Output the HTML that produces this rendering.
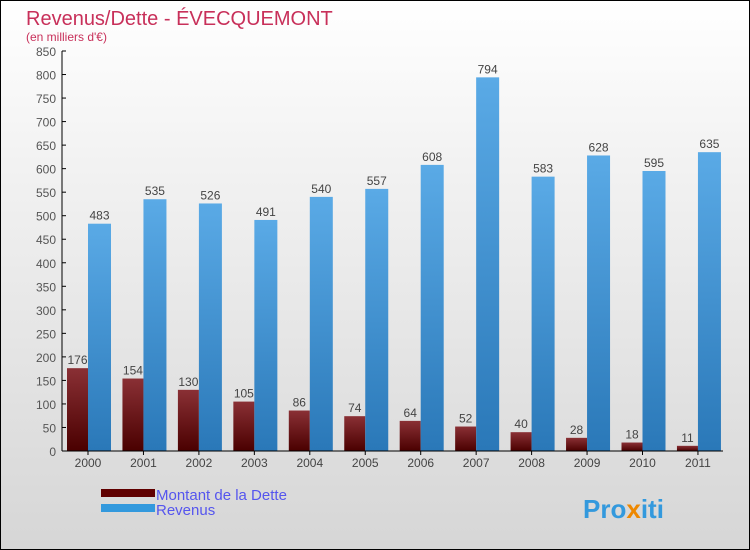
<!DOCTYPE html>
<html><head><meta charset="utf-8"><style>
body{margin:0}
#c{width:748px;height:548px;border:1px solid #000;background:linear-gradient(#fff,#f2f2f2 30%,#d6d6d6);position:relative;overflow:hidden;font-family:"Liberation Sans",sans-serif}
</style></head><body>
<div id="c">
<svg width="748" height="548" id="s">
<defs>
<linearGradient id="gr" x1="0" y1="0" x2="0" y2="1"><stop offset="0" stop-color="#8a3035"/><stop offset="1" stop-color="#4a0000"/></linearGradient>
<linearGradient id="gb" x1="0" y1="0" x2="0" y2="1"><stop offset="0" stop-color="#5aaae6"/><stop offset="1" stop-color="#2a78b8"/></linearGradient>
</defs>
<text x="25" y="24" font-size="20" fill="#c8305a">Revenus/Dette - ÉVECQUEMONT</text>
<text x="25" y="40" font-size="12" fill="#c8305a">(en milliers d'€)</text>
<g id="g"></g>
<rect x="100" y="488" width="54" height="8" fill="#600000"/>
<rect x="100" y="503" width="54" height="8" fill="#3399dd"/>
<text x="155" y="499" font-size="15" fill="#5555ee">Montant de la Dette</text>
<text x="155" y="514" font-size="15" fill="#5555ee">Revenus</text>
<text x="582" y="517" font-size="26" font-weight="bold" fill="#3399dd">Pro<tspan fill="#ee8800">x</tspan>iti</text>
</svg></div>
<script>
const years=["2000","2001","2002","2003","2004","2005","2006","2007","2008","2009","2010","2011"];
const dette=[176,154,130,105,86,74,64,52,40,28,18,11];
const revenus=[483,535,526,491,540,557,608,794,583,628,595,635];
const yTicks=[0,50,100,150,200,250,300,350,400,450,500,550,600,650,700,750,800,850];
const NS="http://www.w3.org/2000/svg";
const g=document.getElementById('g');
const y=v=>450-v*(400/850);
const gx=i=>66+i*55.45;
function el(t,a){const e=document.createElementNS(NS,t);for(const k in a)e.setAttribute(k,a[k]);g.appendChild(e);return e;}
yTicks.forEach(v=>{
 const t=el('text',{x:55,y:y(v)+5,'font-size':12,fill:'#555','text-anchor':'end'});t.textContent=v;
 
 
 const l=el('line',{x1:61,x2:65,y1:y(v),y2:y(v),stroke:'#000'});
 
 
});
years.forEach((yr,i)=>{
 const x=gx(i);
 const b1=el('rect',{x:x,y:y(dette[i]),width:21,height:450-y(dette[i]),fill:'url(#gr)'});
 
 
 const b2=el('rect',{x:x+21,y:y(revenus[i]),width:23,height:450-y(revenus[i]),fill:'url(#gb)'});
 
 
 const t1=el('text',{x:x+10.5,y:y(dette[i])-4,'font-size':12,fill:'#444','text-anchor':'middle'});t1.textContent=dette[i];
 
 
 const t2=el('text',{x:x+32.5,y:y(revenus[i])-4,'font-size':12,fill:'#444','text-anchor':'middle'});t2.textContent=revenus[i];
 
 
 const xl=el('text',{x:x+21,y:466,'font-size':12,fill:'#444','text-anchor':'middle'});xl.textContent=yr;
 
 
 const tk=el('line',{x1:x+21,x2:x+21,y1:450,y2:454,stroke:'#000'});
 
 
});
const ya=el('line',{x1:61,x2:61,y1:50,y2:450,stroke:'#000'});


const xa=el('line',{x1:61,x2:722,y1:450,y2:450,stroke:'#000'});


</script>
</body></html>
